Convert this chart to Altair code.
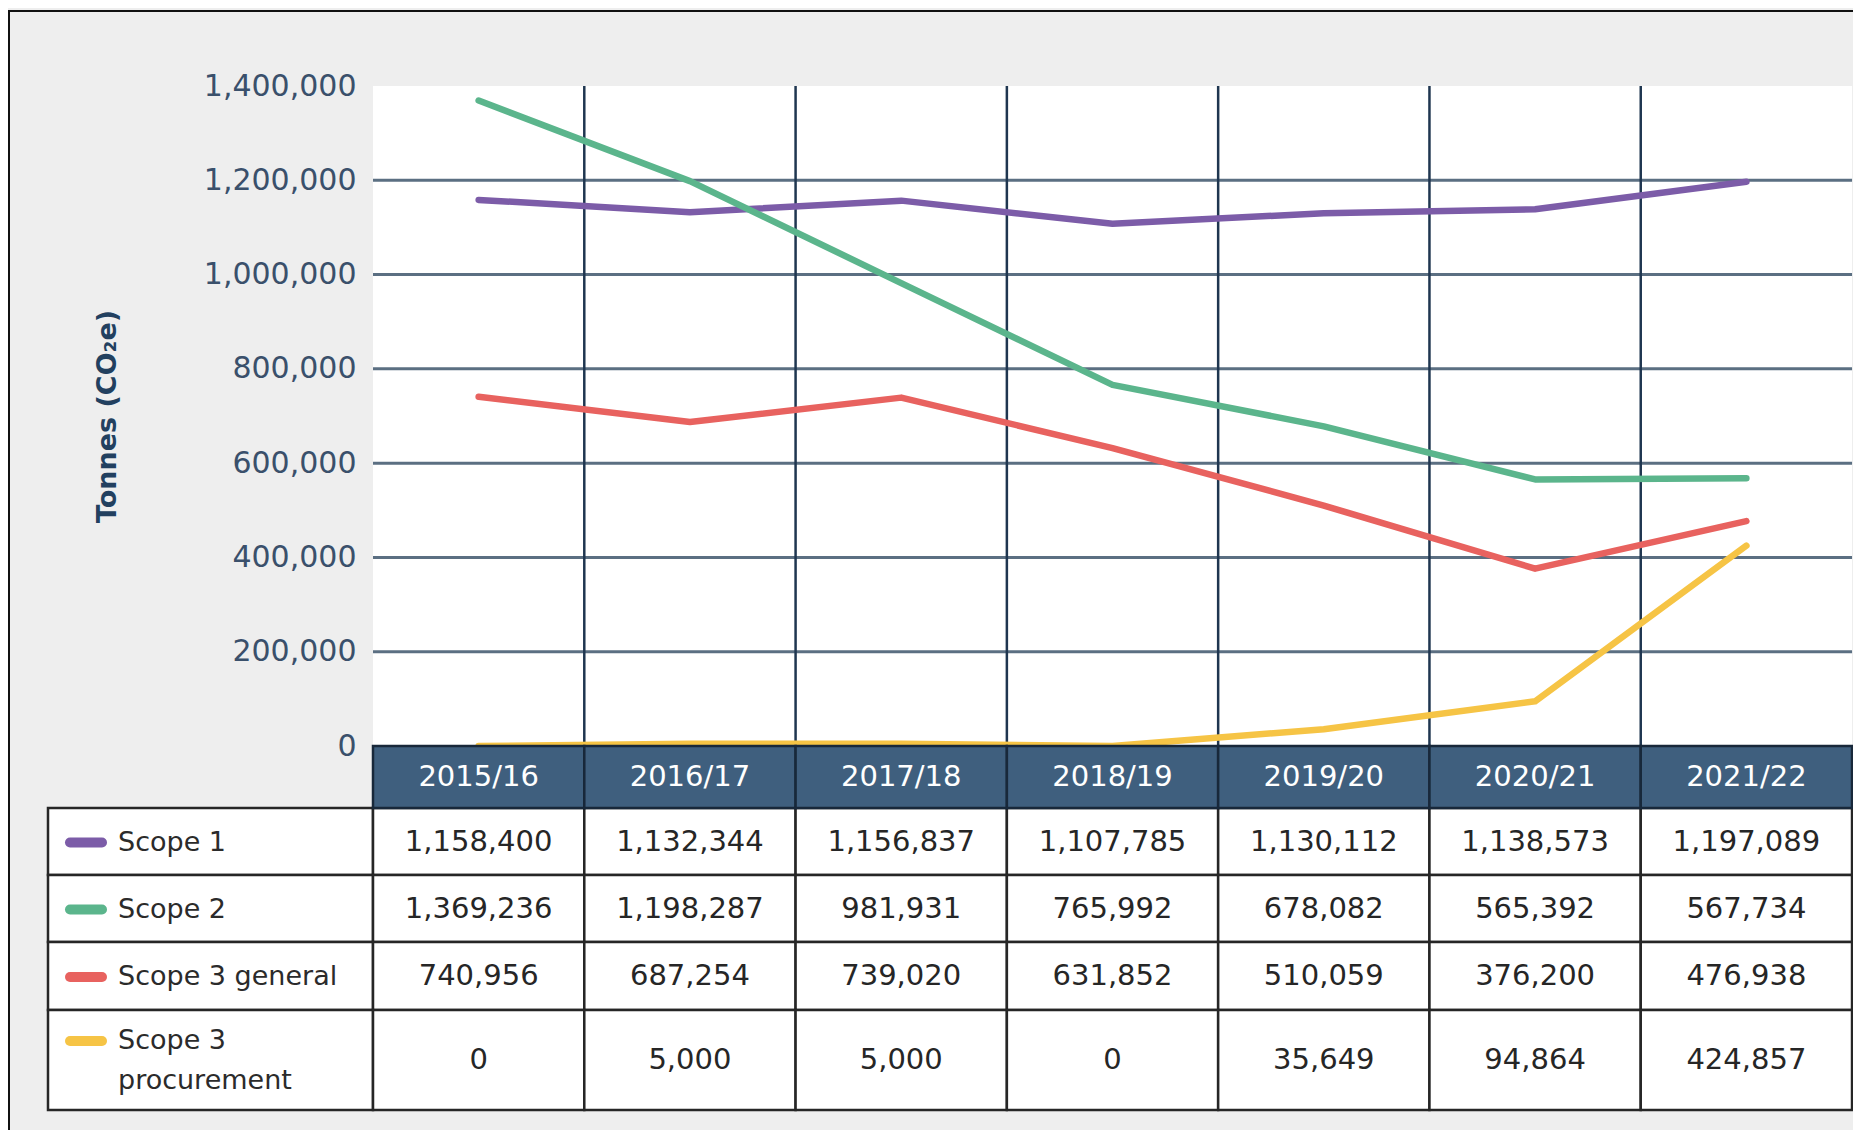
import altair as alt
import pandas as pd

# ---------------- data ----------------
years = ["2015/16", "2016/17", "2017/18", "2018/19", "2019/20", "2020/21", "2021/22"]
series = ["Scope 1", "Scope 2", "Scope 3 general", "Scope 3 procurement"]
series_display = ["Scope 1", "Scope 2", "Scope 3 general", "Scope 3\nprocurement"]
scope1 = [1158400, 1132344, 1156837, 1107785, 1130112, 1138573, 1197089]
scope2 = [1369236, 1198287, 981931, 765992, 678082, 565392, 567734]
scope3_general = [740956, 687254, 739020, 631852, 510059, 376200, 476938]
scope3_procurement = [0, 5000, 5000, 0, 35649, 94864, 424857]
y_ticks = [0, 200000, 400000, 600000, 800000, 1000000, 1200000, 1400000]
grid_values = [200000, 400000, 600000, 800000, 1000000, 1200000]
colors = ["#7c5ca8", "#5bb58c", "#e8625f", "#f6c445"]

values = [scope1, scope2, scope3_general, scope3_procurement]

# ---------------- layout (pixels in the page) ----------------
W, H = 1845, 1122
PX0, PY0 = 8, 8
COL_LEFT, COL_W = 373, 211.29
Y_ZERO, Y_TOP = 746, 86
TABLE_LEFT = 48
HEADER = (746, 808)
ROW_EDGES = [808, 875, 942, 1010, 1110]
LINE_GAP = 40


def ux(px):
    return (px - COL_LEFT) / COL_W


def vy(py):
    return (Y_ZERO - py) * 1400000 / (Y_ZERO - Y_TOP)


xs = alt.Scale(domain=[ux(PX0), ux(PX0 + W)], nice=False, zero=False)
ys = alt.Scale(domain=[vy(PY0 + H), vy(PY0)], nice=False, zero=False)

yaxis = alt.Axis(
    values=y_ticks, format=",.0f", offset=-(COL_LEFT - PX0), labelPadding=17,
    ticks=False, domain=False, grid=False,
    labelFont="DejaVu Sans", labelFontSize=30, labelColor="#3a506b",
    title="Tonnes (CO₂e)", titleFont="DejaVu Sans", titleFontSize=27,
    titleFontWeight="bold", titleColor="#22405f", titleAngle=270,
    titleX=107 - COL_LEFT, titleY=416 - PY0, titleAlign="center",
    titleBaseline="middle",
)


def X(f):
    return alt.X(f, scale=xs, axis=None)


def Y(f):
    return alt.Y(f, scale=ys, axis=yaxis)


nyears = len(years)
color_scale = alt.Scale(domain=series, range=colors)

# plot background
bg = alt.Chart(pd.DataFrame({"x": [0], "x2": [nyears], "y": [0], "y2": [y_ticks[-1]]})).mark_rect(
    fill="white").encode(x=X("x:Q"), x2="x2:Q", y=Y("y:Q"), y2="y2:Q")

hgrid = alt.Chart(pd.DataFrame({"v": grid_values, "x": 0, "x2": nyears})).mark_rule(
    stroke="#5b6f82", strokeWidth=3).encode(x=X("x:Q"), x2="x2:Q", y=Y("v:Q"))

vgrid = alt.Chart(pd.DataFrame({"x": list(range(1, nyears)), "y": 0, "y2": y_ticks[-1]})).mark_rule(
    stroke="#1f3650", strokeWidth=2.5).encode(x=X("x:Q"), y=Y("y:Q"), y2="y2:Q")

line_rows = []
for s, vals in zip(series, values):
    for i, v in enumerate(vals):
        line_rows.append({"series": s, "x": i + 0.5, "value": v})
line_df = pd.DataFrame(line_rows)

lines = alt.Chart(line_df).mark_line(strokeWidth=6.5, strokeCap="round", strokeJoin="round").encode(
    x=X("x:Q"), y=Y("value:Q"),
    color=alt.Color("series:N", scale=color_scale, legend=None),
    order="x:Q",
)

# table cells
cell_rows = []
for r in range(len(series)):
    cell_rows.append({"x": ux(TABLE_LEFT), "x2": 0, "y": vy(ROW_EDGES[r]), "y2": vy(ROW_EDGES[r + 1])})
    for c in range(nyears):
        cell_rows.append({"x": c, "x2": c + 1, "y": vy(ROW_EDGES[r]), "y2": vy(ROW_EDGES[r + 1])})
cells = alt.Chart(pd.DataFrame(cell_rows)).mark_rect(
    fill="white", stroke="#262626", strokeWidth=2.5).encode(
    x=X("x:Q"), x2="x2:Q", y=Y("y:Q"), y2="y2:Q")

head_df = pd.DataFrame({"year": years, "x": range(nyears), "x2": range(1, nyears + 1),
                        "y": vy(HEADER[0]), "y2": vy(HEADER[1]),
                        "xc": [i + 0.5 for i in range(nyears)], "yc": vy(sum(HEADER) / 2)})
head_cells = alt.Chart(head_df).mark_rect(fill="#3f5f7e", stroke="#18283a", strokeWidth=2.5).encode(
    x=X("x:Q"), x2="x2:Q", y=Y("y:Q"), y2="y2:Q")
head_text = alt.Chart(head_df).mark_text(font="DejaVu Sans", fontSize=29, color="white",
                                         baseline="middle").encode(
    x=X("xc:Q"), y=Y("yc:Q"), text="year:N")

num_rows = []
for r, vals in enumerate(values):
    yc = vy((ROW_EDGES[r] + ROW_EDGES[r + 1]) / 2)
    for c, v in enumerate(vals):
        num_rows.append({"x": c + 0.5, "y": yc, "t": f"{v:,}"})
nums = alt.Chart(pd.DataFrame(num_rows)).mark_text(font="DejaVu Sans", fontSize=29, color="#262626",
                                                   baseline="middle").encode(
    x=X("x:Q"), y=Y("y:Q"), text="t:N")

lab_rows = []
sw_rows = []
for r, (s, disp) in enumerate(zip(series, series_display)):
    parts = disp.split("\n")
    mid = (ROW_EDGES[r] + ROW_EDGES[r + 1]) / 2
    first = mid - (len(parts) - 1) * LINE_GAP / 2
    for k, p in enumerate(parts):
        lab_rows.append({"x": ux(118), "y": vy(first + k * LINE_GAP + 1), "t": p})
    sw_rows.append({"series": s, "x": ux(70), "x2": ux(102), "y": vy(first + 1)})
labels = alt.Chart(pd.DataFrame(lab_rows)).mark_text(font="DejaVu Sans", fontSize=27, color="#2b2b2b",
                                                     align="left", baseline="middle").encode(
    x=X("x:Q"), y=Y("y:Q"), text="t:N")
swatches = alt.Chart(pd.DataFrame(sw_rows)).mark_rule(strokeWidth=10, strokeCap="round").encode(
    x=X("x:Q"), x2="x2:Q", y=Y("y:Q"),
    color=alt.Color("series:N", scale=color_scale, legend=None))

# outer frame (top and left edges)
frame_left = alt.Chart(pd.DataFrame({"a": [0]})).mark_rule(stroke="#111", strokeWidth=2).encode(
    x=alt.value(1), y=alt.value(2), y2=alt.value(H))
frame_top = alt.Chart(pd.DataFrame({"a": [0]})).mark_rule(stroke="#111", strokeWidth=2).encode(
    x=alt.value(0), x2=alt.value(W), y=alt.value(3))

chart = alt.layer(
    bg, hgrid, vgrid, lines, cells, head_cells, head_text, nums, labels, swatches,
    frame_left, frame_top,
).properties(
    width=W, height=H, padding=0,
    autosize=alt.AutoSizeParams(type="none"),
    background="#eeeeee",
).configure_view(stroke=None)

chart.save("out.html", embed_options={"renderer": "svg", "actions": False})
